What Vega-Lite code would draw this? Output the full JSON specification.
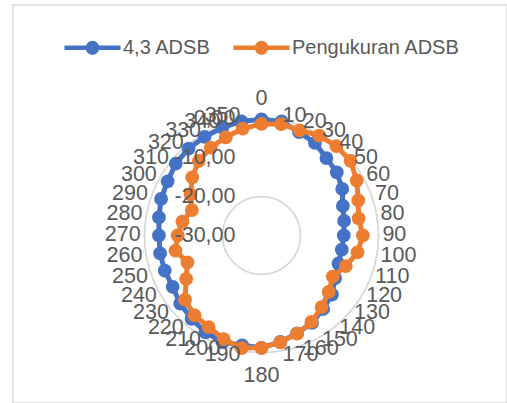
{
  "$schema": "https://vega.github.io/schema/vega-lite/v6.json",
  "width": 494,
  "height": 398,
  "autosize": "none",
  "padding": {"left": 13, "top": 5, "right": 0, "bottom": 0},
  "background": "white",
  "config": {
    "view": {"stroke": "#d9d9d9", "strokeWidth": 1.5},
    "font": "Liberation Sans"
  },
  "datasets": {
    "radar": [
      {"angle": 0, "series": "4,3 ADSB", "value": -0.2},
      {"angle": 10, "series": "4,3 ADSB", "value": -0.3},
      {"angle": 20, "series": "4,3 ADSB", "value": -1.8},
      {"angle": 30, "series": "4,3 ADSB", "value": -2.6},
      {"angle": 40, "series": "4,3 ADSB", "value": -4.1},
      {"angle": 50, "series": "4,3 ADSB", "value": -4.8},
      {"angle": 60, "series": "4,3 ADSB", "value": -6.1},
      {"angle": 70, "series": "4,3 ADSB", "value": -7.8},
      {"angle": 80, "series": "4,3 ADSB", "value": -8.5},
      {"angle": 90, "series": "4,3 ADSB", "value": -8.9},
      {"angle": 100, "series": "4,3 ADSB", "value": -9.1},
      {"angle": 110, "series": "4,3 ADSB", "value": -9.0},
      {"angle": 120, "series": "4,3 ADSB", "value": -8.2},
      {"angle": 130, "series": "4,3 ADSB", "value": -6.4},
      {"angle": 140, "series": "4,3 ADSB", "value": -5.4},
      {"angle": 150, "series": "4,3 ADSB", "value": -4.1},
      {"angle": 160, "series": "4,3 ADSB", "value": -3.3},
      {"angle": 170, "series": "4,3 ADSB", "value": -2.3},
      {"angle": 180, "series": "4,3 ADSB", "value": -1.2},
      {"angle": 190, "series": "4,3 ADSB", "value": -1.4},
      {"angle": 200, "series": "4,3 ADSB", "value": -0.9},
      {"angle": 210, "series": "4,3 ADSB", "value": -1.3},
      {"angle": 220, "series": "4,3 ADSB", "value": -2.1},
      {"angle": 230, "series": "4,3 ADSB", "value": -2.8},
      {"angle": 240, "series": "4,3 ADSB", "value": -3.7},
      {"angle": 250, "series": "4,3 ADSB", "value": -3.6},
      {"angle": 260, "series": "4,3 ADSB", "value": -3.6},
      {"angle": 270, "series": "4,3 ADSB", "value": -3.7},
      {"angle": 280, "series": "4,3 ADSB", "value": -3.3},
      {"angle": 290, "series": "4,3 ADSB", "value": -2.6},
      {"angle": 300, "series": "4,3 ADSB", "value": -2.2},
      {"angle": 310, "series": "4,3 ADSB", "value": -1.3},
      {"angle": 320, "series": "4,3 ADSB", "value": -0.9},
      {"angle": 330, "series": "4,3 ADSB", "value": -0.8},
      {"angle": 340, "series": "4,3 ADSB", "value": -0.6},
      {"angle": 350, "series": "4,3 ADSB", "value": -0.3},
      {"angle": 0, "series": "Pengukuran ADSB", "value": -1.4},
      {"angle": 10, "series": "Pengukuran ADSB", "value": -1.0},
      {"angle": 20, "series": "Pengukuran ADSB", "value": -1.3},
      {"angle": 30, "series": "Pengukuran ADSB", "value": -0.4},
      {"angle": 40, "series": "Pengukuran ADSB", "value": -0.1},
      {"angle": 50, "series": "Pengukuran ADSB", "value": -0.2},
      {"angle": 60, "series": "Pengukuran ADSB", "value": -1.8},
      {"angle": 70, "series": "Pengukuran ADSB", "value": -3.6},
      {"angle": 80, "series": "Pengukuran ADSB", "value": -4.7},
      {"angle": 90, "series": "Pengukuran ADSB", "value": -4.0},
      {"angle": 100, "series": "Pengukuran ADSB", "value": -5.0},
      {"angle": 110, "series": "Pengukuran ADSB", "value": -7.0},
      {"angle": 120, "series": "Pengukuran ADSB", "value": -8.9},
      {"angle": 130, "series": "Pengukuran ADSB", "value": -7.5},
      {"angle": 140, "series": "Pengukuran ADSB", "value": -6.0},
      {"angle": 150, "series": "Pengukuran ADSB", "value": -4.4},
      {"angle": 160, "series": "Pengukuran ADSB", "value": -3.2},
      {"angle": 170, "series": "Pengukuran ADSB", "value": -2.2},
      {"angle": 180, "series": "Pengukuran ADSB", "value": -1.2},
      {"angle": 190, "series": "Pengukuran ADSB", "value": -0.7},
      {"angle": 200, "series": "Pengukuran ADSB", "value": -1.7},
      {"angle": 210, "series": "Pengukuran ADSB", "value": -2.9},
      {"angle": 220, "series": "Pengukuran ADSB", "value": -3.3},
      {"angle": 230, "series": "Pengukuran ADSB", "value": -4.4},
      {"angle": 240, "series": "Pengukuran ADSB", "value": -7.7},
      {"angle": 250, "series": "Pengukuran ADSB", "value": -9.8},
      {"angle": 260, "series": "Pengukuran ADSB", "value": -7.6},
      {"angle": 270, "series": "Pengukuran ADSB", "value": -8.5},
      {"angle": 280, "series": "Pengukuran ADSB", "value": -9.4},
      {"angle": 290, "series": "Pengukuran ADSB", "value": -11.0},
      {"angle": 300, "series": "Pengukuran ADSB", "value": -9.0},
      {"angle": 310, "series": "Pengukuran ADSB", "value": -6.8},
      {"angle": 320, "series": "Pengukuran ADSB", "value": -5.0},
      {"angle": 330, "series": "Pengukuran ADSB", "value": -4.0},
      {"angle": 340, "series": "Pengukuran ADSB", "value": -3.2},
      {"angle": 350, "series": "Pengukuran ADSB", "value": -2.2}
    ],
    "grid": [
      {"level": -30, "label": "-30,00"},
      {"level": -20, "label": "-20,00"},
      {"level": -10, "label": "-10,00"},
      {"level": 0, "label": "0,00"}
    ]
  },
  "data": {"name": "radar"},
  "transform": [
    {"calculate": "datum.angle * PI / 180", "as": "theta"},
    {"calculate": "(datum.value + 30) * sin(datum.theta)", "as": "px"},
    {"calculate": "(datum.value + 30) * cos(datum.theta)", "as": "py"}
  ],
  "encoding": {
    "x": {"type": "quantitative", "scale": {"domain": [-63.72, 62.95], "nice": false, "zero": false}, "axis": null},
    "y": {"type": "quantitative", "scale": {"domain": [-42.95, 59.1], "nice": false, "zero": false}, "axis": null}
  },
  "layer": [
    {
      "data": {"name": "grid"},
      "transform": [{"filter": "datum.level > -30"}],
      "mark": {"type": "arc", "theta": 0, "theta2": 6.2832, "fill": null, "stroke": "#d9d9d9", "strokeWidth": 1.5},
      "encoding": {
        "x": {"datum": 0, "type": "quantitative"},
        "y": {"datum": 0, "type": "quantitative"},
        "radius": {"field": "level", "type": "quantitative", "scale": {"type": "linear", "domain": [-30, 0], "range": [0, 117], "zero": false}}
      }
    },
    {
      "transform": [{"filter": "datum.series == '4,3 ADSB'"}],
      "mark": {"type": "line", "interpolate": "linear-closed", "strokeWidth": 5},
      "encoding": {
        "x": {"field": "px"},
        "y": {"field": "py"},
        "order": {"field": "angle", "type": "quantitative"},
        "color": {"field": "series", "type": "nominal"}
      }
    },
    {
      "transform": [{"filter": "datum.series == '4,3 ADSB'"}],
      "mark": {"type": "point", "filled": true, "opacity": 1, "size": 190},
      "encoding": {
        "x": {"field": "px"},
        "y": {"field": "py"},
        "color": {"field": "series", "type": "nominal"}
      }
    },
    {
      "transform": [{"filter": "datum.series == 'Pengukuran ADSB'"}],
      "mark": {"type": "line", "interpolate": "linear-closed", "strokeWidth": 5},
      "encoding": {
        "x": {"field": "px"},
        "y": {"field": "py"},
        "order": {"field": "angle", "type": "quantitative"},
        "color": {"field": "series", "type": "nominal"}
      }
    },
    {
      "transform": [{"filter": "datum.series == 'Pengukuran ADSB'"}],
      "mark": {"type": "point", "filled": true, "opacity": 1, "size": 190},
      "encoding": {
        "x": {"field": "px"},
        "y": {"field": "py"},
        "color": {
          "field": "series",
          "type": "nominal",
          "scale": {"domain": ["4,3 ADSB", "Pengukuran ADSB"], "range": ["#4472C4", "#ED7D31"]},
          "legend": {
            "title": null,
            "orient": "none",
            "direction": "horizontal",
            "legendX": 49,
            "legendY": 12,
            "padding": 0,
            "symbolType": "M-1,0H1M-0.17,0A0.17,0.17 0 1,0 0.17,0A0.17,0.17 0 1,0 -0.17,0Z",
            "symbolSize": 3136,
            "symbolStrokeWidth": 4.5,
            "labelFont": "Liberation Sans",
            "labelFontSize": 20,
            "labelColor": "#595959",
            "labelOffset": 0,
            "labelLimit": 400,
            "columnPadding": 13,
            "encode": {
              "symbols": {
                "update": {
                  "fill": {"field": "value", "scale": "color"},
                  "stroke": {"field": "value", "scale": "color"},
                  "opacity": {"value": 1}
                }
              }
            }
          }
        }
      }
    },
    {
      "data": {"name": "grid"},
      "transform": [{"calculate": "datum.level + 30", "as": "gr"}],
      "mark": {"type": "text", "align": "right", "baseline": "middle", "dx": -26, "dy": 1, "font": "Liberation Sans", "fontSize": 21.5, "color": "#595959"},
      "encoding": {
        "x": {"datum": 0, "type": "quantitative"},
        "y": {"field": "gr", "type": "quantitative"},
        "text": {"field": "label", "type": "nominal"}
      }
    },
    {
      "transform": [
        {"filter": "datum.series == '4,3 ADSB' && datum.angle > 0 && datum.angle < 180"},
        {"calculate": "31 * sin(datum.theta)", "as": "lx"},
        {"calculate": "31 * cos(datum.theta)", "as": "ly"}
      ],
      "mark": {"type": "text", "align": "left", "baseline": "middle", "font": "Liberation Sans", "fontSize": 21.5, "color": "#595959"},
      "encoding": {
        "x": {"field": "lx"},
        "y": {"field": "ly"},
        "text": {"field": "angle", "type": "nominal"}
      }
    },
    {
      "transform": [
        {"filter": "datum.series == '4,3 ADSB' && datum.angle > 180"},
        {"calculate": "31 * sin(datum.theta)", "as": "lx"},
        {"calculate": "31 * cos(datum.theta)", "as": "ly"}
      ],
      "mark": {"type": "text", "align": "right", "baseline": "middle", "font": "Liberation Sans", "fontSize": 21.5, "color": "#595959"},
      "encoding": {
        "x": {"field": "lx"},
        "y": {"field": "ly"},
        "text": {"field": "angle", "type": "nominal"}
      }
    },
    {
      "transform": [
        {"filter": "datum.series == '4,3 ADSB' && datum.angle == 0"},
        {"calculate": "33.5", "as": "ly"}
      ],
      "mark": {"type": "text", "align": "center", "baseline": "alphabetic", "font": "Liberation Sans", "fontSize": 21.5, "color": "#595959"},
      "encoding": {
        "x": {"datum": 0, "type": "quantitative"},
        "y": {"field": "ly"},
        "text": {"field": "angle", "type": "nominal"}
      }
    },
    {
      "transform": [
        {"filter": "datum.series == '4,3 ADSB' && datum.angle == 180"},
        {"calculate": "-37.5", "as": "ly"}
      ],
      "mark": {"type": "text", "align": "center", "baseline": "alphabetic", "font": "Liberation Sans", "fontSize": 21.5, "color": "#595959"},
      "encoding": {
        "x": {"datum": 0, "type": "quantitative"},
        "y": {"field": "ly"},
        "text": {"field": "angle", "type": "nominal"}
      }
    }
  ]
}
